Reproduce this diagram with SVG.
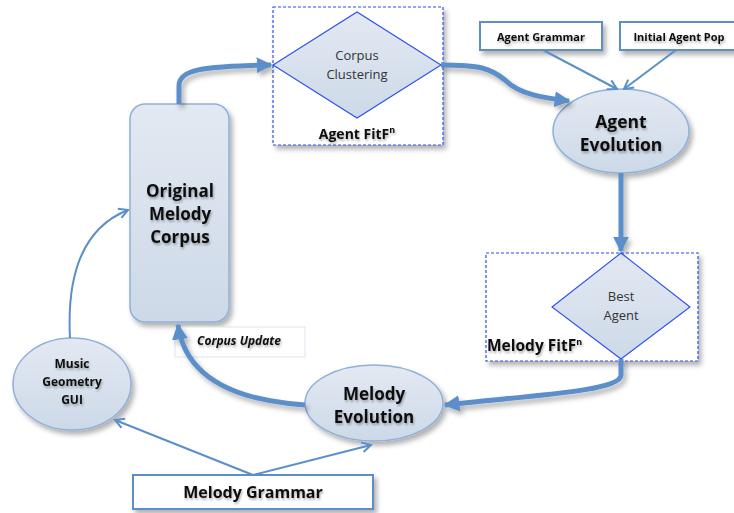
<svg xmlns="http://www.w3.org/2000/svg" width="734" height="513" viewBox="0 0 734 513">
<defs>
  <linearGradient id="nodeFill" x1="0" y1="0" x2="0" y2="1">
    <stop offset="0" stop-color="#e3e9f2"/>
    <stop offset="1" stop-color="#cdd9e8"/>
  </linearGradient>
  <filter id="shadow" x="-20%" y="-20%" width="150%" height="150%">
    <feDropShadow dx="3" dy="4" stdDeviation="2.5" flood-color="#000" flood-opacity="0.3"/>
  </filter>
  <filter id="lshadow" filterUnits="userSpaceOnUse" x="0" y="0" width="734" height="513">
    <feDropShadow dx="3" dy="4" stdDeviation="2.5" flood-color="#000" flood-opacity="0.3"/>
  </filter>
  <filter id="tshadow" x="-10%" y="-20%" width="130%" height="160%">
    <feDropShadow dx="1" dy="2" stdDeviation="1.2" flood-color="#000" flood-opacity="0.3"/>
  </filter>
  <marker id="bigArrow" viewBox="0 0 10 10" refX="9" refY="5" markerWidth="3.2" markerHeight="3.2" orient="auto" markerUnits="strokeWidth">
    <path d="M0,0 L10,5 L0,10 z" fill="#5b8fc9"/>
  </marker>
  <marker id="thinArrow" viewBox="0 0 12 12" refX="10" refY="6" markerWidth="6" markerHeight="6" orient="auto" markerUnits="strokeWidth">
    <path d="M1,1 L10,6 L1,11" fill="none" stroke="#5b8fc9" stroke-width="2"/>
  </marker>
</defs>
<style>
  .node { fill: url(#nodeFill); stroke: #8eb0d9; stroke-width: 1.5; filter: url(#shadow); }
  .diamond { fill: url(#nodeFill); stroke: #2b4ff0; stroke-width: 1.1; }
  .dash { fill: #fff; stroke: #2b4ff0; stroke-width: 1.2; stroke-dasharray: 3 2; filter: url(#shadow); }
  .box { fill: #fff; stroke: #5b8fc9; stroke-width: 2; filter: url(#shadow); }
  .thick { fill: none; stroke: #5b8fc9; stroke-width: 5; marker-end: url(#bigArrow); filter: url(#lshadow); }
  .thin { fill: none; stroke: #5b8fc9; stroke-width: 2; marker-end: url(#thinArrow); }
  text { font-family: "Open Sans", "Liberation Sans", sans-serif; fill: #111; text-anchor: middle; }
  .b { font-weight: bold; filter: url(#tshadow); }
  .r { font-weight: normal; fill: #333; }
</style>

<g id="corpus-clustering">
  <rect class="dash" x="273" y="7" width="170" height="138"/>
  <polygon class="diamond" points="273,65 357,12 441,65 357,118"/>
  <text class="r" x="357" y="60" font-size="13">Corpus</text>
  <text class="r" x="357" y="79" font-size="13">Clustering</text>
  <text class="b" x="357" y="139" font-size="14">Agent FitF<tspan font-size="9" dy="-6">n</tspan></text>
</g>

<g id="best-agent">
  <rect class="dash" x="486" y="253" width="212" height="108"/>
  <polygon class="diamond" points="552,307 621,253 690,307 621,359"/>
  <text class="r" x="621" y="301" font-size="13">Best</text>
  <text class="r" x="621" y="320" font-size="13">Agent</text>
  <text class="b" x="487" y="351" font-size="15.5" style="text-anchor:start">Melody FitF<tspan font-size="9" dy="-6">n</tspan></text>
</g>

<g id="agent-grammar">
  <rect class="box" x="480" y="22" width="122" height="28"/>
  <text class="b" x="541" y="41" font-size="11">Agent Grammar</text>
</g>

<g id="initial-agent-pop">
  <rect class="box" x="620" y="22" width="118" height="28"/>
  <text class="b" x="679" y="41" font-size="11">Initial Agent Pop</text>
</g>

<g id="agent-evolution">
  <ellipse class="node" cx="621" cy="131" rx="68" ry="42"/>
  <text class="b" x="621" y="128" font-size="17.5">Agent</text>
  <text class="b" x="621" y="151" font-size="17.5">Evolution</text>
</g>

<g id="original-melody-corpus">
  <rect class="node" x="130" y="104" width="99" height="218" rx="15"/>
  <text class="b" x="180" y="197" font-size="17">Original</text>
  <text class="b" x="180" y="220" font-size="17">Melody</text>
  <text class="b" x="180" y="243" font-size="17">Corpus</text>
</g>

<g id="corpus-update">
  <rect x="175" y="327" width="130" height="30" fill="#fff" stroke="#dbe5f1" stroke-width="1"/>
  <text class="b" x="239" y="345" font-size="12" font-style="italic">Corpus Update</text>
</g>

<g id="music-geometry-gui">
  <ellipse class="node" cx="72" cy="384" rx="59" ry="46"/>
  <text class="b" x="72" y="368" font-size="12">Music</text>
  <text class="b" x="72" y="386" font-size="12">Geometry</text>
  <text class="b" x="72" y="404" font-size="12">GUI</text>
</g>

<g id="melody-evolution">
  <ellipse class="node" cx="374" cy="403" rx="69" ry="38"/>
  <text class="b" x="374" y="400" font-size="17">Melody</text>
  <text class="b" x="374" y="423" font-size="17">Evolution</text>
</g>

<g id="melody-grammar">
  <rect class="box" x="133" y="475" width="240" height="34"/>
  <text class="b" x="253" y="498" font-size="16">Melody Grammar</text>
</g>

<g id="connectors">
  <path class="thick" d="M179,104 L179,86 C179,70 200,66 271,65"/>
  <path class="thick" d="M441,65 C480,65 490,68 505,80 C520,95 545,98 569,101"/>
  <path class="thick" d="M621,173 L621,251"/>
  <path class="thick" d="M621,359 L621,375 C621,392 520,396 445,405"/>
  <path class="thick" d="M305,405 C230,400 185,375 178,325"/>
  <path class="thin" d="M70,338 C66,262 90,225 128,210"/>
  <path class="thin" d="M253,475 L115,420"/>
  <path class="thin" d="M253,475 L371,445"/>
  <path class="thin" d="M543,50 L617,89"/>
  <path class="thin" d="M676,50 L624,89"/>
</g>
</svg>
